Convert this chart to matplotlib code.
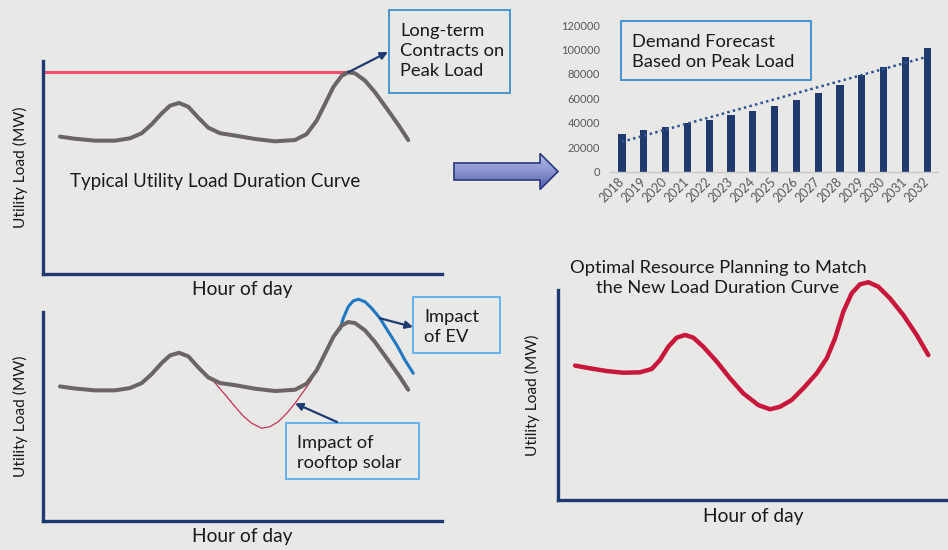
import numpy as np
import matplotlib.pyplot as plt
from matplotlib.patches import Rectangle, FancyArrow
from matplotlib.colors import LinearSegmentedColormap

plt.rcParams['font.family'] = ['Lato', 'DejaVu Sans']

# --- data -------------------------------------------------------------
# typical daily load shape (hour, % of scale)
base_hours = [1.02, 1.92, 3.13, 4.33, 5.23, 5.94, 6.54, 7.14, 7.64, 8.18, 8.74, 9.34,
              9.94, 10.65, 11.55, 12.75, 13.95, 15.16, 15.86, 16.46, 16.96, 17.46,
              17.97, 18.36, 18.77, 19.37, 19.97, 20.77, 21.47, 21.97]
base_load = [64.5, 63.5, 62.6, 62.6, 63.7, 66.1, 70.3, 75.4, 79.0, 80.3, 78.5, 73.4,
             68.7, 66.1, 65.0, 63.4, 62.3, 62.9, 65.7, 72.0, 79.8, 87.7,
             93.1, 94.7, 94.2, 90.8, 85.3, 76.7, 68.9, 62.9]

# same shape, lower panel
der_hours = base_hours
der_load = [64.4, 63.4, 62.5, 62.5, 63.6, 66.0, 70.3, 75.6, 79.2, 80.5, 78.8, 73.5,
            68.7, 66.0, 65.0, 63.3, 62.2, 62.8, 65.7, 72.1, 80.0, 88.0,
            93.6, 95.2, 94.7, 91.2, 85.6, 76.8, 68.9, 62.8]

ev_hours = [17.86, 18.06, 18.36, 18.66, 18.97, 19.37, 19.77, 20.27, 20.77, 21.28,
            21.77, 22.27]
ev_load = [91.7, 97.0, 102.5, 105.3, 106.1, 104.9, 101.8, 97.0, 90.6, 84.2, 77.0, 70.7]

solar_hours = [10.05, 10.54, 11.05, 11.55, 12.05, 12.55, 13.15, 13.65, 14.15, 14.66,
               15.16, 15.66, 16.16]
solar_load = [68.8, 64.3, 59.5, 54.7, 50.2, 46.8, 44.4, 45.1, 47.5, 51.5, 56.3, 61.9, 67.5]

# planned load after EV and solar
new_hours = [1.05, 1.97, 3.00, 4.02, 5.05, 5.77, 6.28, 6.79, 7.30, 7.82, 8.33, 8.94,
             9.77, 10.58, 11.40, 12.33, 13.05, 13.66, 14.38, 15.10, 15.92, 16.54,
             17.05, 17.56, 18.07, 18.58, 19.10, 19.71, 20.43, 21.25, 22.07, 22.79]
new_load = [64.0, 62.7, 61.4, 60.6, 60.8, 62.4, 66.7, 73.0, 77.3, 78.6, 77.3, 73.0,
            65.9, 58.0, 50.8, 45.2, 43.2, 44.4, 47.6, 53.2, 60.3, 67.5,
            77.0, 89.7, 98.4, 102.7, 103.7, 101.6, 96.0, 88.1, 78.6, 69.0]

years = ['2018', '2019', '2020', '2021', '2022', '2023', '2024', '2025',
         '2026', '2027', '2028', '2029', '2030', '2031', '2032']
demand = [31000, 34000, 36500, 40000, 42000, 46000, 50000, 54000,
          59000, 64500, 71000, 79000, 86000, 94000, 101500]

# --- figure -----------------------------------------------------------
W, H = 948, 550
BG = '#e8e8e6'
NAVY = '#1f3a73'
GRAY = '#6b6566'

fig = plt.figure(figsize=(W / 100, H / 100), dpi=100, facecolor=BG)


def px_axes(x0, y0, x1, y1):
    return fig.add_axes([x0 / W, 1 - y1 / H, (x1 - x0) / W, (y1 - y0) / H])


def load_axes(ax, xpad, ypad):
    ax.set_xlim(0, 24)
    ax.set_ylim(0, 100)
    ax.set_facecolor('none')
    for s in ('top', 'right'):
        ax.spines[s].set_visible(False)
    for s in ('left', 'bottom'):
        ax.spines[s].set_color(NAVY)
        ax.spines[s].set_linewidth(2.4)
    ax.set_xticks([])
    ax.set_yticks([])
    ax.set_xlabel('Hour of day', fontsize=13.8, labelpad=xpad, color='#1a1a1a')
    ax.set_ylabel('Utility Load (MW)', fontsize=11.2, labelpad=ypad, color='#1a1a1a')


line_kw = dict(solid_joinstyle='round', solid_capstyle='round')

# top left: typical curve and peak contract line
ax1 = px_axes(43, 61, 442, 274)
load_axes(ax1, 5, 11)
ipk = int(np.argmax(base_load))
ax1.plot([0, base_hours[ipk]], [base_load[ipk], base_load[ipk]], color='#ef4f6e', lw=2.2,
         solid_capstyle='butt')
ax1.plot(base_hours, base_load, color=GRAY, lw=2.9, **line_kw)

# bottom left: EV and rooftop solar impact
ax2 = px_axes(43, 312, 442, 521)
load_axes(ax2, 5, 11)
ax2.plot(solar_hours, solar_load, color='#cc3350', lw=0.9)
ax2.plot(ev_hours, ev_load, color='#1f78c1', lw=2.2, clip_on=False, **line_kw)
ax2.plot(der_hours, der_load, color=GRAY, lw=2.9, **line_kw)

# bottom right: new load curve
ax3 = px_axes(558, 290, 948, 500)
load_axes(ax3, 6, 13)
ax3.plot(new_hours, new_load, color='#c8173a', lw=3.2, clip_on=False, **line_kw)

# top right: demand forecast bars
axb = px_axes(610, 25, 938, 171.7)
xb = np.arange(len(years))
axb.bar(xb, demand, width=0.33, color='#203a6e')
coef = np.polyfit(xb, demand, 1)
axb.plot(xb, np.polyval(coef, xb), color='#2f5597', lw=1.8, linestyle=(0, (1, 1.3)))
axb.set_xlim(-0.55, 14.5)
axb.set_ylim(0, 120000)
axb.set_facecolor('none')
for s in ('top', 'right', 'left'):
    axb.spines[s].set_visible(False)
axb.spines['bottom'].set_color('#c9c9c9')
axb.spines['bottom'].set_linewidth(1)
axb.set_yticks(np.arange(0, 120001, 20000))
axb.set_xticks(xb)
axb.set_xticklabels(years, rotation=45, ha='right', va='center', rotation_mode='anchor')
axb.tick_params(length=0, colors='#595959')
axb.tick_params(axis='y', pad=7, labelsize=8)
axb.tick_params(axis='x', pad=6, labelsize=9)

# --- overlay: notes, boxes, arrows --------------------------------------
ov = fig.add_axes([0, 0, 1, 1])
ov.set_facecolor('none')
ov.axis('off')

txt = dict(fontsize=13.2, color='#1a1a1a', linespacing=1.3, va='center')

ov.text(70, 182, 'Typical Utility Load Duration Curve', fontsize=13.5, color='#1a1a1a',
        va='center')
ov.text(718, 278, 'Optimal Resource Planning to Match\nthe New Load Duration Curve',
        ha='center', **txt)

ov.add_patch(Rectangle((389, 10), 121, 83, fill=False, ec='#3d8fd1', lw=1.3))
ov.text(400, 51, 'Long-term\nContracts on\nPeak Load', **txt)

ov.add_patch(Rectangle((621, 21), 190, 59, fill=False, ec='#3b8ad0', lw=1.3))
ov.text(632, 52, 'Demand Forecast\nBased on Peak Load', **txt)

ov.add_patch(Rectangle((413, 297), 87, 56, fill=False, ec='#5aaef0', lw=1.3))
ov.text(424, 327, 'Impact\nof EV', **txt)

ov.add_patch(Rectangle((286, 423), 133, 56, fill=False, ec='#5aaef0', lw=1.3))
ov.text(297, 453, 'Impact of\nrooftop solar', **txt)

aprops = dict(arrowstyle='-|>', color=NAVY, lw=1.6, mutation_scale=11,
              shrinkA=0, shrinkB=0)
ov.annotate('', xy=(388, 52), xytext=(base_hours[ipk], base_load[ipk]),
            textcoords=ax1.transData, arrowprops=aprops)
ov.annotate('', xy=(413, 327), xytext=(ev_hours[7], ev_load[7]),
            textcoords=ax2.transData, arrowprops=aprops)
ov.annotate('', xy=(solar_hours[10], solar_load[10]), xycoords=ax2.transData,
            xytext=(337, 422), textcoords=ov.transData, arrowprops=aprops)

# block arrow between the panels
blk = FancyArrow(454, 171.5, 104, 0, width=17, head_width=36, head_length=18,
                 length_includes_head=True, fc='none', ec='#2b3780', lw=1.2)
ov.add_patch(blk)
shade = LinearSegmentedColormap.from_list('shade', ['#b6bee8', '#8a94cf', '#4e5ca8'])
im = ov.imshow(np.linspace(0, 1, 60).reshape(-1, 1), cmap=shade, aspect='auto',
               extent=(454, 558, 190, 153))
im.set_clip_path(blk)

ov.set_xlim(0, W)
ov.set_ylim(H, 0)

fig.savefig('out.png', dpi=100, facecolor=BG)
